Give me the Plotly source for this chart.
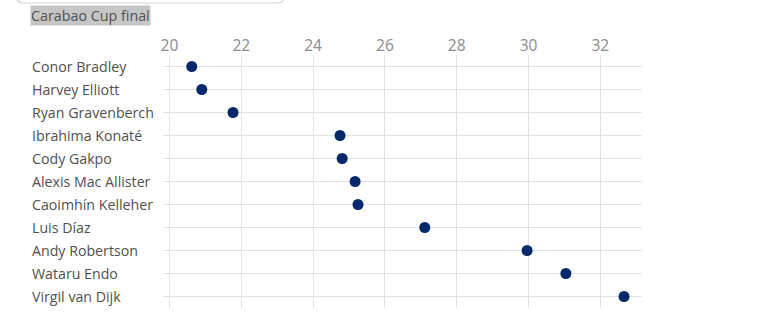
import plotly.graph_objects as go

players = ["Conor Bradley", "Harvey Elliott", "Ryan Gravenberch", "Ibrahima Konaté",
           "Cody Gakpo", "Alexis Mac Allister", "Caoimhín Kelleher", "Luis Díaz",
           "Andy Robertson", "Wataru Endo", "Virgil van Dijk"]
ages = [20.62, 20.90, 21.77, 24.75, 24.81, 25.17, 25.25, 27.11, 29.96, 31.04, 32.66]
x_ticks = [20, 22, 24, 26, 28, 30, 32]
title_text = "Carabao Cup final"

W, H = 764, 315
L, R, T, B = 163, 642, 55, 308
FONT = "Open Sans"


def px(xp):
    return (xp - L) / (R - L)


def py(yp):
    return (B - yp) / (B - T)


fig = go.Figure()
fig.add_trace(go.Scatter(
    x=ages, y=players, mode="markers",
    marker=dict(size=11, color="#03296b"),
    hoverinfo="x+y", showlegend=False,
))

for p in players:
    fig.add_annotation(
        x=px(30), xref="paper", y=p, yref="y", text=p, showarrow=False,
        xanchor="left", yanchor="middle",
        font=dict(family=FONT, size=14.2, color="#505050"),
    )

fig.add_annotation(
    x=px(30), xref="paper", y=py(15), yref="paper", text=title_text, showarrow=False,
    xanchor="left", yanchor="middle", bgcolor="#c6c6c6", borderpad=0,
    font=dict(family=FONT, size=14.3, color="#505050"),
)

# top rounded box edge (partially visible)
x0, x1, yb, r = px(16), px(285), py(3), 8
rx = r / (R - L)
ry = r / (B - T)
ytop = py(-20)
fig.add_shape(
    type="path", xref="paper", yref="paper",
    path=(f"M {x0} {ytop} L {x0} {yb + ry} Q {x0} {yb} {x0 + rx} {yb} "
          f"L {x1 - rx} {yb} Q {x1} {yb} {x1} {yb + ry} L {x1} {ytop}"),
    line=dict(color="#d4d4d4", width=1.2),
)

fig.update_layout(
    width=W, height=H,
    margin=dict(l=L, r=W - R, t=T, b=H - B),
    paper_bgcolor="white", plot_bgcolor="white",
    xaxis=dict(
        side="top", range=[19.82, 33.16], tickvals=x_ticks,
        ticktext=[str(v) for v in x_ticks],
        showgrid=True, gridcolor="#e2e2e2", gridwidth=1,
        zeroline=False, showline=False, ticks="",
        tickfont=dict(family=FONT, size=15.5, color="#8a8a8a"),
        ticklabelstandoff=0,
    ),
    yaxis=dict(
        categoryorder="array", categoryarray=players,
        autorange=False, range=[10.5, -0.5],
        showgrid=True, gridcolor="#e2e2e2", gridwidth=1,
        showticklabels=False, zeroline=False, showline=False, ticks="",
    ),
)

fig.write_html("out.html")
